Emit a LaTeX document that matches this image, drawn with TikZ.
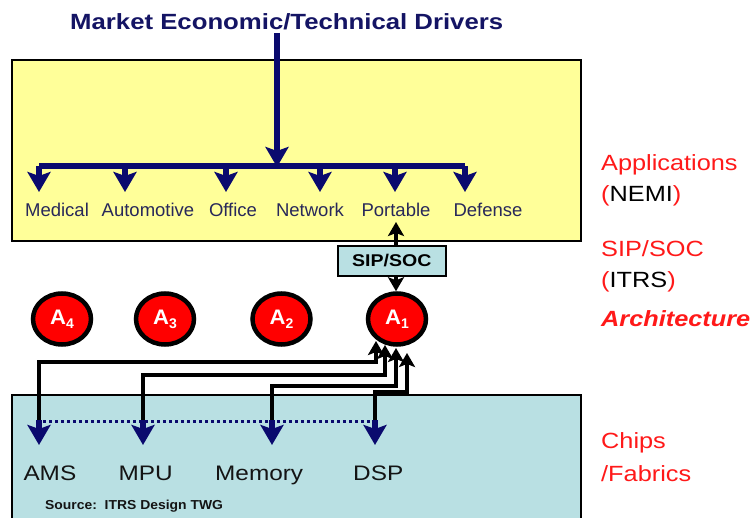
\documentclass[tikz,border=0pt]{standalone}
\usepackage{fontspec}
\setmainfont{Liberation Sans}
\usetikzlibrary{arrows.meta,shapes.geometric,calc}
\definecolor{navy}{RGB}{10,10,110}
\definecolor{titlenavy}{RGB}{20,20,100}
\definecolor{appyellow}{RGB}{255,255,153}
\definecolor{chipcyan}{RGB}{185,224,227}
\definecolor{labred}{RGB}{255,25,25}
\definecolor{apptext}{RGB}{40,40,90}
\definecolor{chiptext}{RGB}{20,20,20}
\newcommand{\hs}[2]{\scalebox{#1}[1]{#2}}
\newcommand{\fs}[1]{\fontsize{#1}{#1}\selectfont}
\begin{document}
\begin{tikzpicture}[x=1pt,y=-1pt,
  navyline/.style={draw=navy, line width=5.5pt},
  navyarrow/.style={navyline, -{Stealth[length=20pt,width=23pt,inset=4pt]}},
  blackarrow/.style={draw=black, line width=4.8pt, -{Stealth[length=14pt,width=16pt,inset=3pt]}},
  thinarrow/.style={draw=black, line width=3.5pt, -{Stealth[length=14pt,width=16pt,inset=3pt]}},
  applabel/.style={anchor=base, text=apptext, font=\fs{18.5}, inner sep=0},
  rightlabel/.style={anchor=base west, text=labred, font=\fs{22}, inner sep=0},
  chiplabel/.style={anchor=base west, text=chiptext, font=\fs{21}, inner sep=0},
  archnode/.style={ellipse, fill=red, draw=black, line width=4.5pt, minimum width=58pt, minimum height=51pt, inner sep=0, text=white, font=\bfseries\fs{21}},
  regionbox/.style={draw=black, line width=1.5pt}
]
\useasboundingbox (0,0) rectangle (755,518);
\fill[white] (0,0) rectangle (755,518);

% region boxes
\filldraw[regionbox, fill=appyellow] (12,60) rectangle (581,241);
\draw[black, line width=2.5pt] (12,60) -- (581,60);
\filldraw[regionbox, fill=chipcyan] (12,395) rectangle (581,530);

% title
\node[anchor=base, text=titlenavy, font=\bfseries\fs{22}, inner sep=0] (title) at (286.7,29.3) {\hs{1.17}{Market Economic/Technical Drivers}};

% application tree
\coordinate (ttop) at (277,33);
\coordinate (hub) at (277,167);
\coordinate (b1) at (39,166);
\coordinate (b2) at (125,166);
\coordinate (b3) at (226,166);
\coordinate (b4) at (320,166);
\coordinate (b5) at (395,166);
\coordinate (b6) at (465,166);
\draw[navyarrow] (ttop) -- (hub);
\draw[navyline] (b1) -- (b6);
\foreach \b in {b1,b2,b3,b4,b5,b6}
  \draw[navyarrow] (\b) -- ($(\b)+(0,26)$);

\node[applabel] (medical) at (57,217) {Medical};
\node[applabel] (automotive) at (148,217) {Automotive};
\node[applabel] (office) at (233,217) {Office};
\node[applabel] (network) at (310,217) {Network};
\node[applabel] (portable) at (396,217) {Portable};
\node[applabel] (defense) at (488,217) {Defense};

% SIP/SOC box
\node[draw=black, line width=2pt, fill=chipcyan, minimum width=108pt, minimum height=30pt, inner sep=0, font=\bfseries\fs{17}] (sip) at (391.7,261) {\hs{1.15}{SIP/SOC}};

% architectures
\node[archnode] (a4) at (62,319) {\hs{1.05}{A}\raisebox{-4pt}{\fs{14}4}};
\node[archnode] (a3) at (165,319) {\hs{1.05}{A}\raisebox{-4pt}{\fs{14}3}};
\node[archnode] (a2) at (281.5,319) {\hs{1.05}{A}\raisebox{-4pt}{\fs{14}2}};
\node[archnode] (a1) at (397,319) {\hs{1.05}{A}\raisebox{-4pt}{\fs{14}1}};

\coordinate (sipup) at (396,246.5);
\coordinate (portin) at (396,222);
\coordinate (sipdown) at (396,276.5);
\draw[thinarrow] (sipup) -- (portin);
\draw[thinarrow] (sipdown) -- (sipdown |- a1.north);

% chips
\node[chiplabel] (ams) at (23.3,480) {\hs{1.16}{AMS}};
\node[chiplabel] (mpu) at (118.3,480) {\hs{1.16}{MPU}};
\node[chiplabel] (memory) at (215,480) {\hs{1.16}{Memory}};
\node[chiplabel] (dsp) at (353,480) {\hs{1.16}{DSP}};
\node[anchor=base west, font=\bfseries\fs{13}, text=chiptext, inner sep=0] (source) at (45,509) {\hs{1.07}{Source:\ \ ITRS Design TWG}};

% routes from chips to A1
\coordinate (c1) at (39,421);
\coordinate (c2) at (143,421);
\coordinate (c3) at (272,421);
\coordinate (c4) at (375,421);
\coordinate (t1) at (376,341);
\coordinate (t2) at (385,345);
\coordinate (t3) at (396,348);
\coordinate (t4) at (407,353);
\draw[blackarrow] (c1) |- (376,362) -- (t1);
\draw[blackarrow] (c2) |- (385,375) -- (t2);
\draw[blackarrow] (c3) |- (396,386) -- (t3);
\draw[blackarrow] (c4) -- (375,392) -- (407,392) -- (t4);

\foreach \c in {c1,c2,c3,c4}
  \draw[navyarrow] ($(\c)+(0,-1)$) -- ($(\c)+(0,24)$);
\draw[draw=navy, line width=3.2pt, dash pattern=on 3pt off 3pt] (43,421.5) -- (373,421.5);

% right-hand labels
\node[rightlabel] (lapp) at (601,171) {\hs{1.15}{Applications}};
\node[rightlabel] (lnemi) at (601,201.5) {\hs{1.15}{(\textcolor{black}{NEMI})}};
\node[rightlabel] (lsip) at (601,256.5) {\hs{1.15}{SIP/SOC}};
\node[rightlabel] (litrs) at (601,288) {\hs{1.15}{(\textcolor{black}{ITRS})}};
\node[rightlabel, font=\bfseries\itshape\fs{22}] (larch) at (601,326.5) {\hs{1.15}{Architecture}};
\node[rightlabel] (lchips) at (601,448) {\hs{1.15}{Chips}};
\node[rightlabel] (lfab) at (601,481.5) {\hs{1.15}{/Fabrics}};
\end{tikzpicture}
\end{document}
